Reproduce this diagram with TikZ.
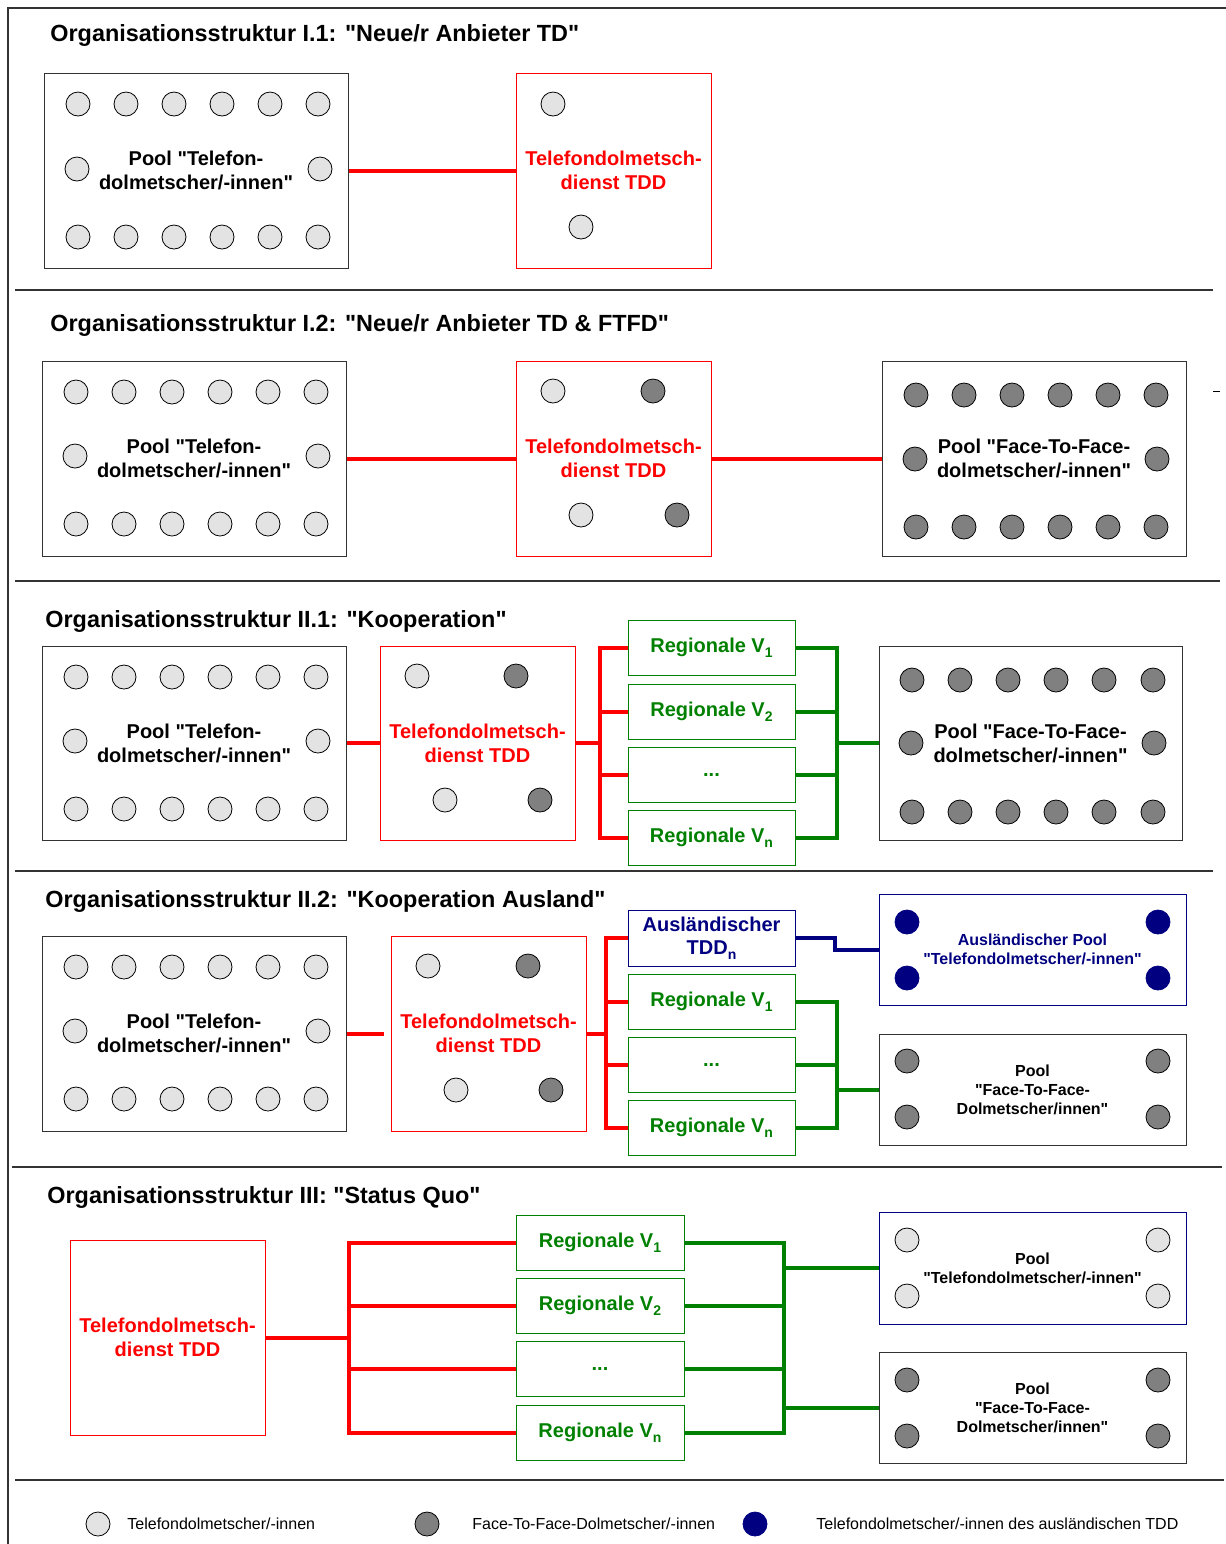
\documentclass[tikz,border=0pt]{standalone}
\usepackage{fontspec}
\setmainfont{Liberation Sans}[Ligatures=TeXOff]
\definecolor{lightc}{HTML}{E3E3E3}
\definecolor{darkc}{HTML}{808080}
\definecolor{navyc}{HTML}{000080}
\definecolor{redc}{HTML}{FF0000}
\definecolor{greenc}{HTML}{008000}
\definecolor{framec}{HTML}{333333}
\newcommand\poolcirc[8]{%
  \foreach \k in {0,...,5} {%
    \node[#1] (#2t\k) at ({#3+48*\k},#4) {};
    \node[#1] (#2b\k) at ({#3+48*\k},#5) {};
  }
  \node[#1] (#2ml) at (#7,#6) {};
  \node[#1] (#2mr) at (#8,#6) {};
}
\newcommand\lowsub[1]{\raisebox{-0.45ex}{\fontsize{7}{8}\selectfont #1}}
\begin{document}
\begin{tikzpicture}[x=0.5pt,y=-0.5pt,
  titlet/.style={anchor=base west, inner sep=0, font=\bfseries\fontsize{11.7}{14}\selectfont},
  poolbox/.style={draw=framec, line width=0.5pt, inner sep=0, align=center, font=\bfseries\fontsize{10}{12}\selectfont},
  smallpool/.style={draw=framec, line width=0.5pt, inner sep=0, align=center, font=\bfseries\fontsize{8}{9.5}\selectfont},
  auspoolbox/.style={draw=navyc, line width=0.5pt, inner sep=0, align=center, text=navyc, font=\bfseries\fontsize{8}{9.5}\selectfont},
  tpoolbox/.style={draw=navyc, line width=0.5pt, inner sep=0, align=center, font=\bfseries\fontsize{8}{9.5}\selectfont},
  tddbox/.style={draw=redc, line width=0.5pt, inner sep=0, align=center, text=redc, minimum width=97.5pt, minimum height=97.5pt, font=\bfseries\fontsize{10}{12}\selectfont},
  regbox/.style={draw=greenc, line width=0.5pt, inner sep=0, align=center, text=greenc, minimum height=27.5pt, font=\bfseries\fontsize{10}{12}\selectfont},
  ausbox/.style={draw=navyc, line width=0.5pt, inner sep=0, align=center, text=navyc, minimum width=83.5pt, minimum height=28pt, font=\bfseries\fontsize{10}{11.5}\selectfont},
  lc/.style={circle, draw=black, line width=0.4pt, fill=lightc, minimum size=12pt, inner sep=0},
  dc/.style={circle, draw=black, line width=0.4pt, fill=darkc, minimum size=12pt, inner sep=0},
  nc/.style={circle, draw=navyc, line width=0.4pt, fill=navyc, minimum size=12pt, inner sep=0},
  redline/.style={draw=redc, line width=2pt},
  greenline/.style={draw=greenc, line width=2pt},
  navyline/.style={draw=navyc, line width=2pt},
  sepline/.style={draw=framec, line width=0.75pt},
  legt/.style={anchor=west, inner sep=0, font=\fontsize{8}{9.5}\selectfont}
]
\useasboundingbox (0,0) rectangle (1226,1544);
% frame
\draw[sepline] (8,1544) -- (8,8) -- (1226,8);
\draw[sepline] (15,290) -- (1213,290);
\draw[sepline] (15,581) -- (1220,581);
\draw[sepline] (15,871) -- (1213,871);
\draw[sepline] (12,1167) -- (1222,1167);
\draw[sepline] (15,1480) -- (1224,1480);
\draw[line width=0.5pt] (1213,391) -- (1220,391);

% ===== I.1 =====
\node[titlet] (t1) at (50,41) {Organisationsstruktur I.1: "Neue/r Anbieter TD"};
\node[poolbox, minimum width=152pt, minimum height=97.5pt] (pool1) at (196,170.5) {Pool "Telefon-\\dolmetscher/-innen"};
\poolcirc{lc}{pa}{78}{104}{237}{169}{77}{320}
\node[tddbox] (tdd1) at (613.5,170.5) {Telefondolmetsch-\\dienst TDD};
\node[lc] (tdd1a) at (553,104) {};
\node[lc] (tdd1b) at (581,227) {};
\draw[redline] (pool1.east) -- (tdd1.west);

% ===== I.2 =====
\node[titlet] (t2) at (50,331) {Organisationsstruktur I.2: "Neue/r Anbieter TD \& FTFD"};
\node[poolbox, minimum width=152pt, minimum height=97.5pt] (pool2) at (194,458.5) {Pool "Telefon-\\dolmetscher/-innen"};
\poolcirc{lc}{pb}{76}{392}{524}{456}{75}{318}
\node[tddbox] (tdd2) at (613.5,458.5) {Telefondolmetsch-\\dienst TDD};
\node[lc] (tdd2a) at (553,391) {};
\node[dc] (tdd2b) at (653,391) {};
\node[lc] (tdd2c) at (581,515) {};
\node[dc] (tdd2d) at (677,515) {};
\node[poolbox, minimum width=152pt, minimum height=97.5pt] (ftf2) at (1034,458.5) {Pool "Face-To-Face-\\dolmetscher/-innen"};
\poolcirc{dc}{fb}{916}{395}{527}{459}{915}{1157}
\draw[redline] (pool2.east) -- (tdd2.west);
\draw[redline] (tdd2.east) -- (ftf2.west);

% ===== II.1 =====
\node[titlet] (t3) at (45,627) {Organisationsstruktur II.1: "Kooperation"};
\node[poolbox, minimum width=152pt, minimum height=97pt] (pool3) at (194,743) {Pool "Telefon-\\dolmetscher/-innen"};
\poolcirc{lc}{pc}{76}{677}{809}{741}{75}{318}
\node[tddbox, minimum height=97pt] (tdd3) at (477.5,743) {Telefondolmetsch-\\dienst TDD};
\node[lc] (tdd3a) at (417,676) {};
\node[dc] (tdd3b) at (516,676) {};
\node[lc] (tdd3c) at (445,800) {};
\node[dc] (tdd3d) at (540,800) {};
\node[regbox, minimum width=83.5pt] (r31) at (711.5,648) {Regionale V\lowsub{1}};
\node[regbox, minimum width=83.5pt] (r32) at (711.5,711.5) {Regionale V\lowsub{2}};
\node[regbox, minimum width=83.5pt] (r33) at (711.5,774.5) {...};
\node[regbox, minimum width=83.5pt] (r34) at (711.5,837.5) {Regionale V\lowsub{n}};
\node[poolbox, minimum width=151.5pt, minimum height=97pt] (ftf3) at (1030.5,743) {Pool "Face-To-Face-\\dolmetscher/-innen"};
\foreach \k/\xx in {0/912,1/960,2/1008,3/1056,4/1104,5/1153} {
  \node[dc] (fct\k) at (\xx,680) {};
  \node[dc] (fcb\k) at (\xx,812) {};
}
\node[dc] (fcml) at (911,743) {};
\node[dc] (fcmr) at (1154,743) {};
\coordinate (rb3) at (600,743);
\coordinate (gb3) at (837,743);
\draw[redline] (pool3.east) -- (tdd3.west);
\draw[redline] (tdd3.east) -- (rb3);
\foreach \r in {r31,r32,r33,r34} {
  \draw[redline] (rb3) |- (\r.west);
  \draw[greenline] (\r.east) -| (gb3);
}
\draw[greenline] (gb3) -- (ftf3.west);

% ===== II.2 =====
\node[titlet] (t4) at (45,907) {Organisationsstruktur II.2: "Kooperation Ausland"};
\node[poolbox, minimum width=152pt, minimum height=97.5pt] (pool4) at (194,1033.5) {Pool "Telefon-\\dolmetscher/-innen"};
\poolcirc{lc}{pd}{76}{967}{1099}{1031}{75}{318}
\node[tddbox] (tdd4) at (488.5,1033.5) {Telefondolmetsch-\\dienst TDD};
\node[lc] (tdd4a) at (428,966) {};
\node[dc] (tdd4b) at (528,966) {};
\node[lc] (tdd4c) at (456,1090) {};
\node[dc] (tdd4d) at (551,1090) {};
\node[ausbox] (aus4) at (711.5,938) {Ausländischer\\TDD\lowsub{n}};
\node[regbox, minimum width=83.5pt] (r41) at (711.5,1001.5) {Regionale V\lowsub{1}};
\node[regbox, minimum width=83.5pt] (r42) at (711.5,1064.5) {...};
\node[regbox, minimum width=83.5pt] (r43) at (711.5,1128) {Regionale V\lowsub{n}};
\node[auspoolbox, minimum width=153.5pt, minimum height=55.5pt] (auspool) at (1032.5,949.5) {Ausländischer Pool\\"Telefondolmetscher/-innen"};
\node[nc] (na1) at (907,922) {};
\node[nc] (na2) at (1158,922) {};
\node[nc] (na3) at (907,978) {};
\node[nc] (na4) at (1158,978) {};
\node[smallpool, minimum width=153.5pt, minimum height=55.5pt] (ftf4) at (1032.5,1089.5) {Pool\\"Face-To-Face-\\Dolmetscher/innen"};
\node[dc] (fd1) at (907,1061) {};
\node[dc] (fd2) at (1158,1061) {};
\node[dc] (fd3) at (907,1117) {};
\node[dc] (fd4) at (1158,1117) {};
\coordinate (gap4) at (384,1033.5);
\coordinate (rb4) at (606,1033.5);
\coordinate (gb4) at (837,1089.5);
\coordinate (nb4) at (835,938);
\draw[redline] (pool4.east) -- (gap4);
\draw[redline] (tdd4.east) -- (rb4);
\foreach \r in {aus4,r41,r42,r43} {
  \draw[redline] (rb4) |- (\r.west);
}
\foreach \r in {r41,r42,r43} {
  \draw[greenline] (\r.east) -| (gb4);
}
\draw[greenline] (gb4) -- (ftf4.west);
\draw[navyline] (aus4.east) -- (nb4) |- (auspool.west);

% ===== III =====
\node[titlet] (t5) at (47,1203) {Organisationsstruktur III: "Status Quo"};
\node[tddbox] (tdd5) at (167.5,1337.5) {Telefondolmetsch-\\dienst TDD};
\node[regbox, minimum width=84pt] (r51) at (600,1242.5) {Regionale V\lowsub{1}};
\node[regbox, minimum width=84pt] (r52) at (600,1305.5) {Regionale V\lowsub{2}};
\node[regbox, minimum width=84pt] (r53) at (600,1369) {...};
\node[regbox, minimum width=84pt] (r54) at (600,1432.5) {Regionale V\lowsub{n}};
\node[tpoolbox, minimum width=153.5pt, minimum height=56pt] (pt5) at (1032.5,1268) {Pool\\"Telefondolmetscher/-innen"};
\node[lc] (le1) at (907,1240) {};
\node[lc] (le2) at (1158,1240) {};
\node[lc] (le3) at (907,1296) {};
\node[lc] (le4) at (1158,1296) {};
\node[smallpool, minimum width=153.5pt, minimum height=55.5pt] (pf5) at (1032.5,1407.5) {Pool\\"Face-To-Face-\\Dolmetscher/innen"};
\node[dc] (fe1) at (907,1380) {};
\node[dc] (fe2) at (1158,1380) {};
\node[dc] (fe3) at (907,1436) {};
\node[dc] (fe4) at (1158,1436) {};
\coordinate (rb5) at (349,1337.5);
\coordinate (gA5) at (784,1268);
\coordinate (gB5) at (784,1407.5);
\draw[redline] (tdd5.east) -- (rb5);
\foreach \r in {r51,r52,r53,r54} {
  \draw[redline] (rb5) |- (\r.west);
}
\draw[greenline] (r51.east) -| (gB5);
\draw[greenline] (r54.east) -| (gB5);
\draw[greenline] (r52.east) -- (r52.east -| gB5);
\draw[greenline] (r53.east) -- (r53.east -| gB5);
\draw[greenline] (gA5) -- (pt5.west);
\draw[greenline] (gB5) -- (pf5.west);

% ===== legend =====
\node[lc] (lg1) at (98,1524) {};
\node[legt] (lt1) at (127,1524) {Telefondolmetscher/-innen};
\node[dc] (lg2) at (427,1524) {};
\node[legt] (lt2) at (472,1524) {Face-To-Face-Dolmetscher/-innen};
\node[nc] (lg3) at (755,1524) {};
\node[legt] (lt3) at (816,1524) {Telefondolmetscher/-innen des ausländischen TDD};
\end{tikzpicture}
\end{document}
